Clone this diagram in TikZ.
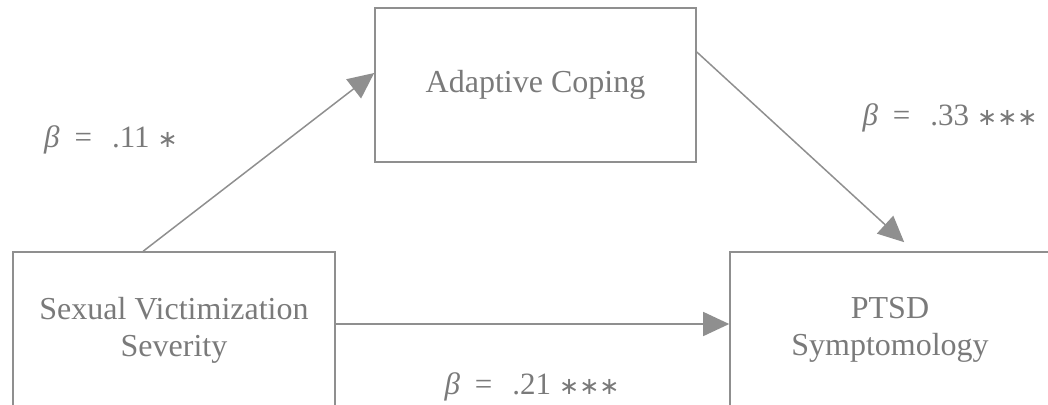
\documentclass[tikz,border=0pt]{standalone}
\usepackage{fontspec}
\setmainfont{Liberation Serif}
\newfontfamily\starfont{DejaVu Sans}
\usetikzlibrary{arrows.meta}
\definecolor{linegray}{HTML}{8F8F8F}
\definecolor{textgray}{HTML}{7A7A7A}
\newcommand{\coefstars}[1]{{\starfont\fontsize{24}{28}\selectfont #1}}

\begin{document}
\begin{tikzpicture}[x=1pt, y=-1pt,
        block/.style={rectangle, draw=linegray, line width=1.6pt, text=textgray, align=center, inner sep=0pt, font=\fontsize{32}{37}\selectfont},
        coef/.style={text=textgray, inner sep=0pt, anchor=base, font=\fontsize{31}{35}\selectfont},
        link/.style={draw=linegray, line width=1.5pt, -{Triangle[length=26pt, width=24pt, fill=linegray]}}]

        \useasboundingbox (0,0) rectangle (1048,404);
        \clip (0,0) rectangle (1048,404);

        \node[block, minimum width=322pt, minimum height=156pt] (sev) at (174,330) {Sexual Victimization\\Severity};
        \node[block, minimum width=321pt, minimum height=154pt] (cope) at (535.5,85) {Adaptive Coping};
        \node[block, minimum width=320pt, minimum height=156pt] (ptsd) at (890,330) {PTSD\\Symptomology};

        \node[coef] (b1) at (111,147) {\textit{β}\hspace{15pt}=\hspace{20pt}.11\hspace{8pt}\coefstars{∗}};
        \node[coef] (b2) at (950,125) {\textit{β}\hspace{15pt}=\hspace{20pt}.33\hspace{8pt}\coefstars{∗∗∗}};
        \node[coef] (b3) at (532,394) {\textit{β}\hspace{15pt}=\hspace{20pt}.21\hspace{8pt}\coefstars{∗∗∗}};

        \draw[link] ([xshift=131pt]sev.north west) -- ([yshift=12pt]cope.west);
        \draw[link] ([yshift=33pt]cope.east) -- ([xshift=175pt, yshift=9pt]ptsd.north west);
        \draw[link] ([yshift=6pt]sev.east) -- ([yshift=6pt]ptsd.west);
    \end{tikzpicture}
\end{document}
